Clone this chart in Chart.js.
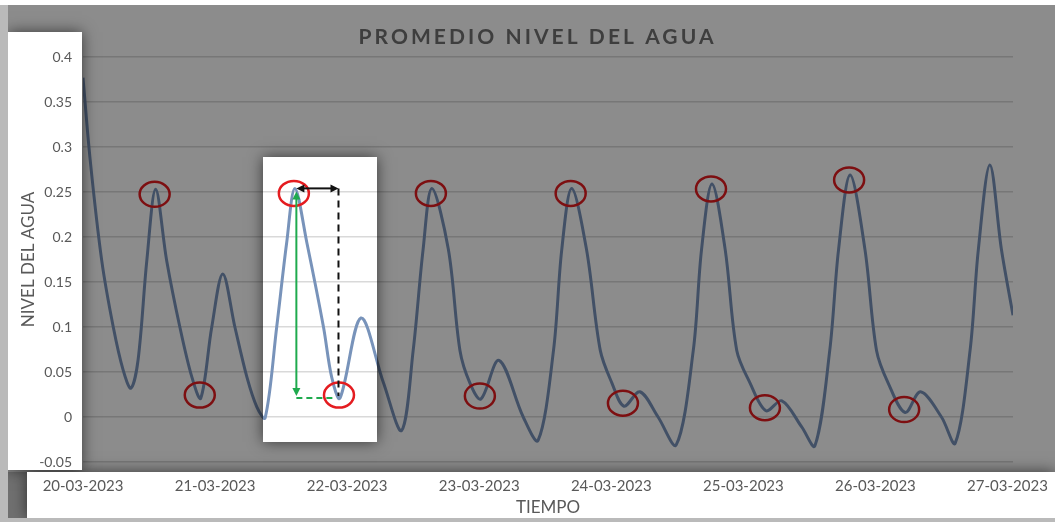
<!DOCTYPE html>
<html><head><meta charset="utf-8">
<script src="https://cdn.jsdelivr.net/npm/chart.js@4.4.1/dist/chart.umd.min.js"></script>
<style>html,body{margin:0;padding:0;background:#fff;}canvas{display:block;}</style>
</head><body>
<canvas id="c" width="1055" height="522"></canvas>
<script>
const chartTitle = 'PROMEDIO NIVEL DEL AGUA';
const xAxisTitle = 'TIEMPO';
const yAxisTitle = 'NIVEL DEL AGUA';
const dayLabels = ['20-03-2023','21-03-2023','22-03-2023','23-03-2023','24-03-2023','25-03-2023','26-03-2023','27-03-2023'];
const dayHours = [0,24,48,72,96,120,144,168];
const yTickValues = [-0.05,0,0.05,0.1,0.15,0.2,0.25,0.3,0.35,0.4];
const yTickLabels = ['-0.05','0','0.05','0.1','0.15','0.2','0.25','0.3','0.35','0.4'];

// hours since 20-03-2023 00:00
const hours = [0,1.3,3.4,5.5,7.3,8.7,10.0,11.6,13.2,15.2,17.6,19.8,21.4,23.4,25.4,27.6,29.8,31.6,33.1,35.2,37.0,38.5,40.7,43.7,45.2,46.7,50.5,54.6,57.9,60.0,61.8,63.4,66.4,68.5,70.3,72.3,75.6,80.0,82.7,85.5,87.0,88.8,91.5,94.0,96.1,98.3,101.2,104.5,107.8,110.9,112.4,114.3,116.7,118.8,121.2,124.1,127.0,130.6,133.0,135.7,137.3,139.4,142.1,144.2,146.3,149.4,152.2,156.0,158.5,161.2,162.7,164.8,166.9,169.0];
const nivel = [0.377,0.286,0.174,0.100,0.052,0.032,0.063,0.174,0.253,0.174,0.100,0.044,0.021,0.100,0.159,0.100,0.044,0.011,-0.001,0.100,0.193,0.254,0.193,0.100,0.044,0.021,0.110,0.038,-0.015,0.074,0.186,0.254,0.186,0.074,0.038,0.020,0.063,0.000,-0.026,0.074,0.186,0.254,0.186,0.074,0.038,0.012,0.028,0.000,-0.031,0.074,0.186,0.259,0.186,0.074,0.038,0.007,0.018,-0.011,-0.032,0.074,0.186,0.269,0.186,0.074,0.038,0.005,0.028,0.000,-0.029,0.074,0.186,0.280,0.186,0.113];

const circledIdx = [8,12,21,25,31,35,41,45,51,55,61,65];
const focusPeakIdx = 21, focusTroughIdx = 25;
const focusBox = {x0: 32.7, x1: 53.4, y0: 0.289, y1: -0.028};

const LINE = '#7893ba', TXT = '#595959', GRID = '#d9d9d9';
const RED = 'rgb(228,28,32)', GREEN = '#1faa4e';

function arrowHead(ctx, x, y, dx, dy, color) {
  const len = 8, w = 4;
  const nx = -dy, ny = dx;
  ctx.beginPath();
  ctx.moveTo(x, y);
  ctx.lineTo(x - dx*len + nx*w, y - dy*len + ny*w);
  ctx.lineTo(x - dx*len - nx*w, y - dy*len - ny*w);
  ctx.closePath();
  ctx.fillStyle = color; ctx.fill();
}

const decor = {
  id: 'decor',
  beforeDraw(chart) {
    const ctx = chart.ctx; ctx.save(); ctx.fillStyle = '#fff';
    ctx.fillRect(0, 0, chart.width, chart.height); ctx.restore();
  },
  afterDatasetsDraw(chart) {
    const ctx = chart.ctx, xs = chart.scales.x, ys = chart.scales.y;
    ctx.save();
    ctx.strokeStyle = RED; ctx.lineWidth = 2.5;
    circledIdx.forEach(i => {
      const px = xs.getPixelForValue(hours[i]), py = ys.getPixelForValue(nivel[i]);
      const isPeak = nivel[i] > 0.1;
      ctx.beginPath();
      ctx.ellipse(px - 1, py + (isPeak ? 5 : -3), 15, 12.5, 0, 0, Math.PI*2);
      ctx.stroke();
    });
    ctx.restore();
  },
  afterDraw(chart) {
    const ctx = chart.ctx, ca = chart.chartArea, W = chart.width, H = chart.height;
    const xs = chart.scales.x, ys = chart.scales.y;
    const fx0 = Math.round(xs.getPixelForValue(focusBox.x0)), fx1 = Math.round(xs.getPixelForValue(focusBox.x1));
    const fy0 = Math.round(ys.getPixelForValue(focusBox.y0)), fy1 = Math.round(ys.getPixelForValue(focusBox.y1));
    const holes = [
      [8, ca.top - 25, ca.left - 1 - 8, ca.bottom + 8 - (ca.top - 25)],
      [27, ca.bottom + 10, W - 27, H - 4 - (ca.bottom + 10)],
      [fx0, fy0, fx1 - fx0, fy1 - fy0]
    ];
    const region = () => {
      ctx.beginPath();
      ctx.rect(8, 5, W - 8, H - 4 - 5);
      holes.forEach(h => ctx.rect(h[0], h[1], h[2], h[3]));
    };
    ctx.save();
    region();
    ctx.fillStyle = 'rgba(0,0,0,0.45)';
    ctx.fill('evenodd');
    ctx.fillStyle = 'rgba(0,0,0,0.27)';
    ctx.fillRect(0, 5, 8, H - 5);
    ctx.fillRect(8, H - 4, W - 8, 4);
    ctx.fillStyle = 'rgba(0,0,0,0.2)';
    ctx.fillRect(8, ca.bottom + 10, 19, H - 4 - (ca.bottom + 10));
    ctx.restore();
    ctx.save();
    region(); ctx.clip('evenodd');
    ctx.shadowColor = 'rgba(0,0,0,0.6)'; ctx.shadowBlur = 14;
    ctx.fillStyle = '#000';
    holes.forEach(h => { ctx.fillRect(h[0], h[1], h[2], h[3]); });
    ctx.restore();

    // title
    ctx.save();
    ctx.font = 'bold 21px Lato';
    const chars = chartTitle.length;
    const natural = ctx.measureText(chartTitle).width;
    const sp = Math.max(0, (355 - natural) / (chars - 1));
    ctx.letterSpacing = sp + 'px';
    ctx.fillStyle = '#3e3e3e';
    ctx.textBaseline = 'middle'; ctx.textAlign = 'left';
    const tw = natural + sp * (chars - 1);
    ctx.fillText(chartTitle, 536 - tw/2, 37);
    ctx.restore();

    // focus annotation arrows
    const pX = xs.getPixelForValue(hours[focusPeakIdx]), pY = ys.getPixelForValue(nivel[focusPeakIdx]);
    const tX = xs.getPixelForValue(hours[focusTroughIdx]), tY = ys.getPixelForValue(nivel[focusTroughIdx]);
    const gx = pX + 1.5, bx = tX - 1.5;
    ctx.save();
    ctx.lineWidth = 2;
    ctx.strokeStyle = '#111'; ctx.setLineDash([7,5]);
    ctx.beginPath(); ctx.moveTo(bx, pY); ctx.lineTo(bx, tY - 2); ctx.stroke();
    ctx.strokeStyle = GREEN; ctx.setLineDash([6,4]);
    ctx.beginPath(); ctx.moveTo(gx, tY); ctx.lineTo(bx - 3, tY); ctx.stroke();
    ctx.setLineDash([]);
    ctx.strokeStyle = '#111';
    ctx.beginPath(); ctx.moveTo(gx + 6, pY); ctx.lineTo(bx - 6, pY); ctx.stroke();
    arrowHead(ctx, gx, pY, -1, 0, '#111');
    arrowHead(ctx, bx, pY, 1, 0, '#111');
    ctx.strokeStyle = GREEN;
    ctx.beginPath(); ctx.moveTo(gx, pY + 10); ctx.lineTo(gx, tY - 8); ctx.stroke();
    arrowHead(ctx, gx, pY + 3, 0, -1, GREEN);
    arrowHead(ctx, gx, tY - 2, 0, 1, GREEN);
    ctx.restore();
  }
};

new Chart(document.getElementById('c'), {
  type: 'line',
  data: {
    datasets: [{
      data: hours.map((h, i) => ({x: h, y: nivel[i]})),
      borderColor: LINE, borderWidth: 3, pointRadius: 0,
      tension: 0.33, fill: false
    }]
  },
  options: {
    responsive: false, animation: false, devicePixelRatio: 1,
    layout: {padding: {top: 57, right: 42, bottom: 0, left: 0}},
    plugins: {legend: {display: false}, tooltip: {enabled: false}, title: {display: false}},
    scales: {
      x: {
        type: 'linear', min: 0, max: 169,
        afterBuildTicks: s => { s.ticks = dayHours.map(v => ({value: v})); },
        afterFit: s => { s.height = 60; s.paddingLeft = 0; s.paddingRight = 0; },
        grid: {display: false, drawTicks: false},
        border: {display: false},
        ticks: {autoSkip: false, maxRotation: 0, minRotation: 0, padding: 15,
          color: TXT, font: {family: 'Lato', size: 15},
          callback: (v) => dayLabels[dayHours.indexOf(v)]},
        title: {display: true, text: xAxisTitle, color: TXT, font: {family: 'Lato', size: 17},
          padding: {top: 0, bottom: 4}}
      },
      y: {
        min: -0.05, max: 0.4,
        afterBuildTicks: s => { s.ticks = yTickValues.map(v => ({value: v})); },
        afterFit: s => { s.width = 83; s.paddingTop = 0; s.paddingBottom = 0; },
        grid: {color: GRID, lineWidth: 1.5, drawTicks: false},
        border: {display: false},
        ticks: {padding: 11, color: TXT, font: {family: 'Lato', size: 14},
          callback: (v) => yTickLabels[yTickValues.indexOf(v)]},
        title: {display: true, text: yAxisTitle, color: TXT, font: {family: 'Lato', size: 17},
          padding: {top: 18, bottom: 0}}
      }
    }
  },
  plugins: [decor]
});
</script>
</body></html>
